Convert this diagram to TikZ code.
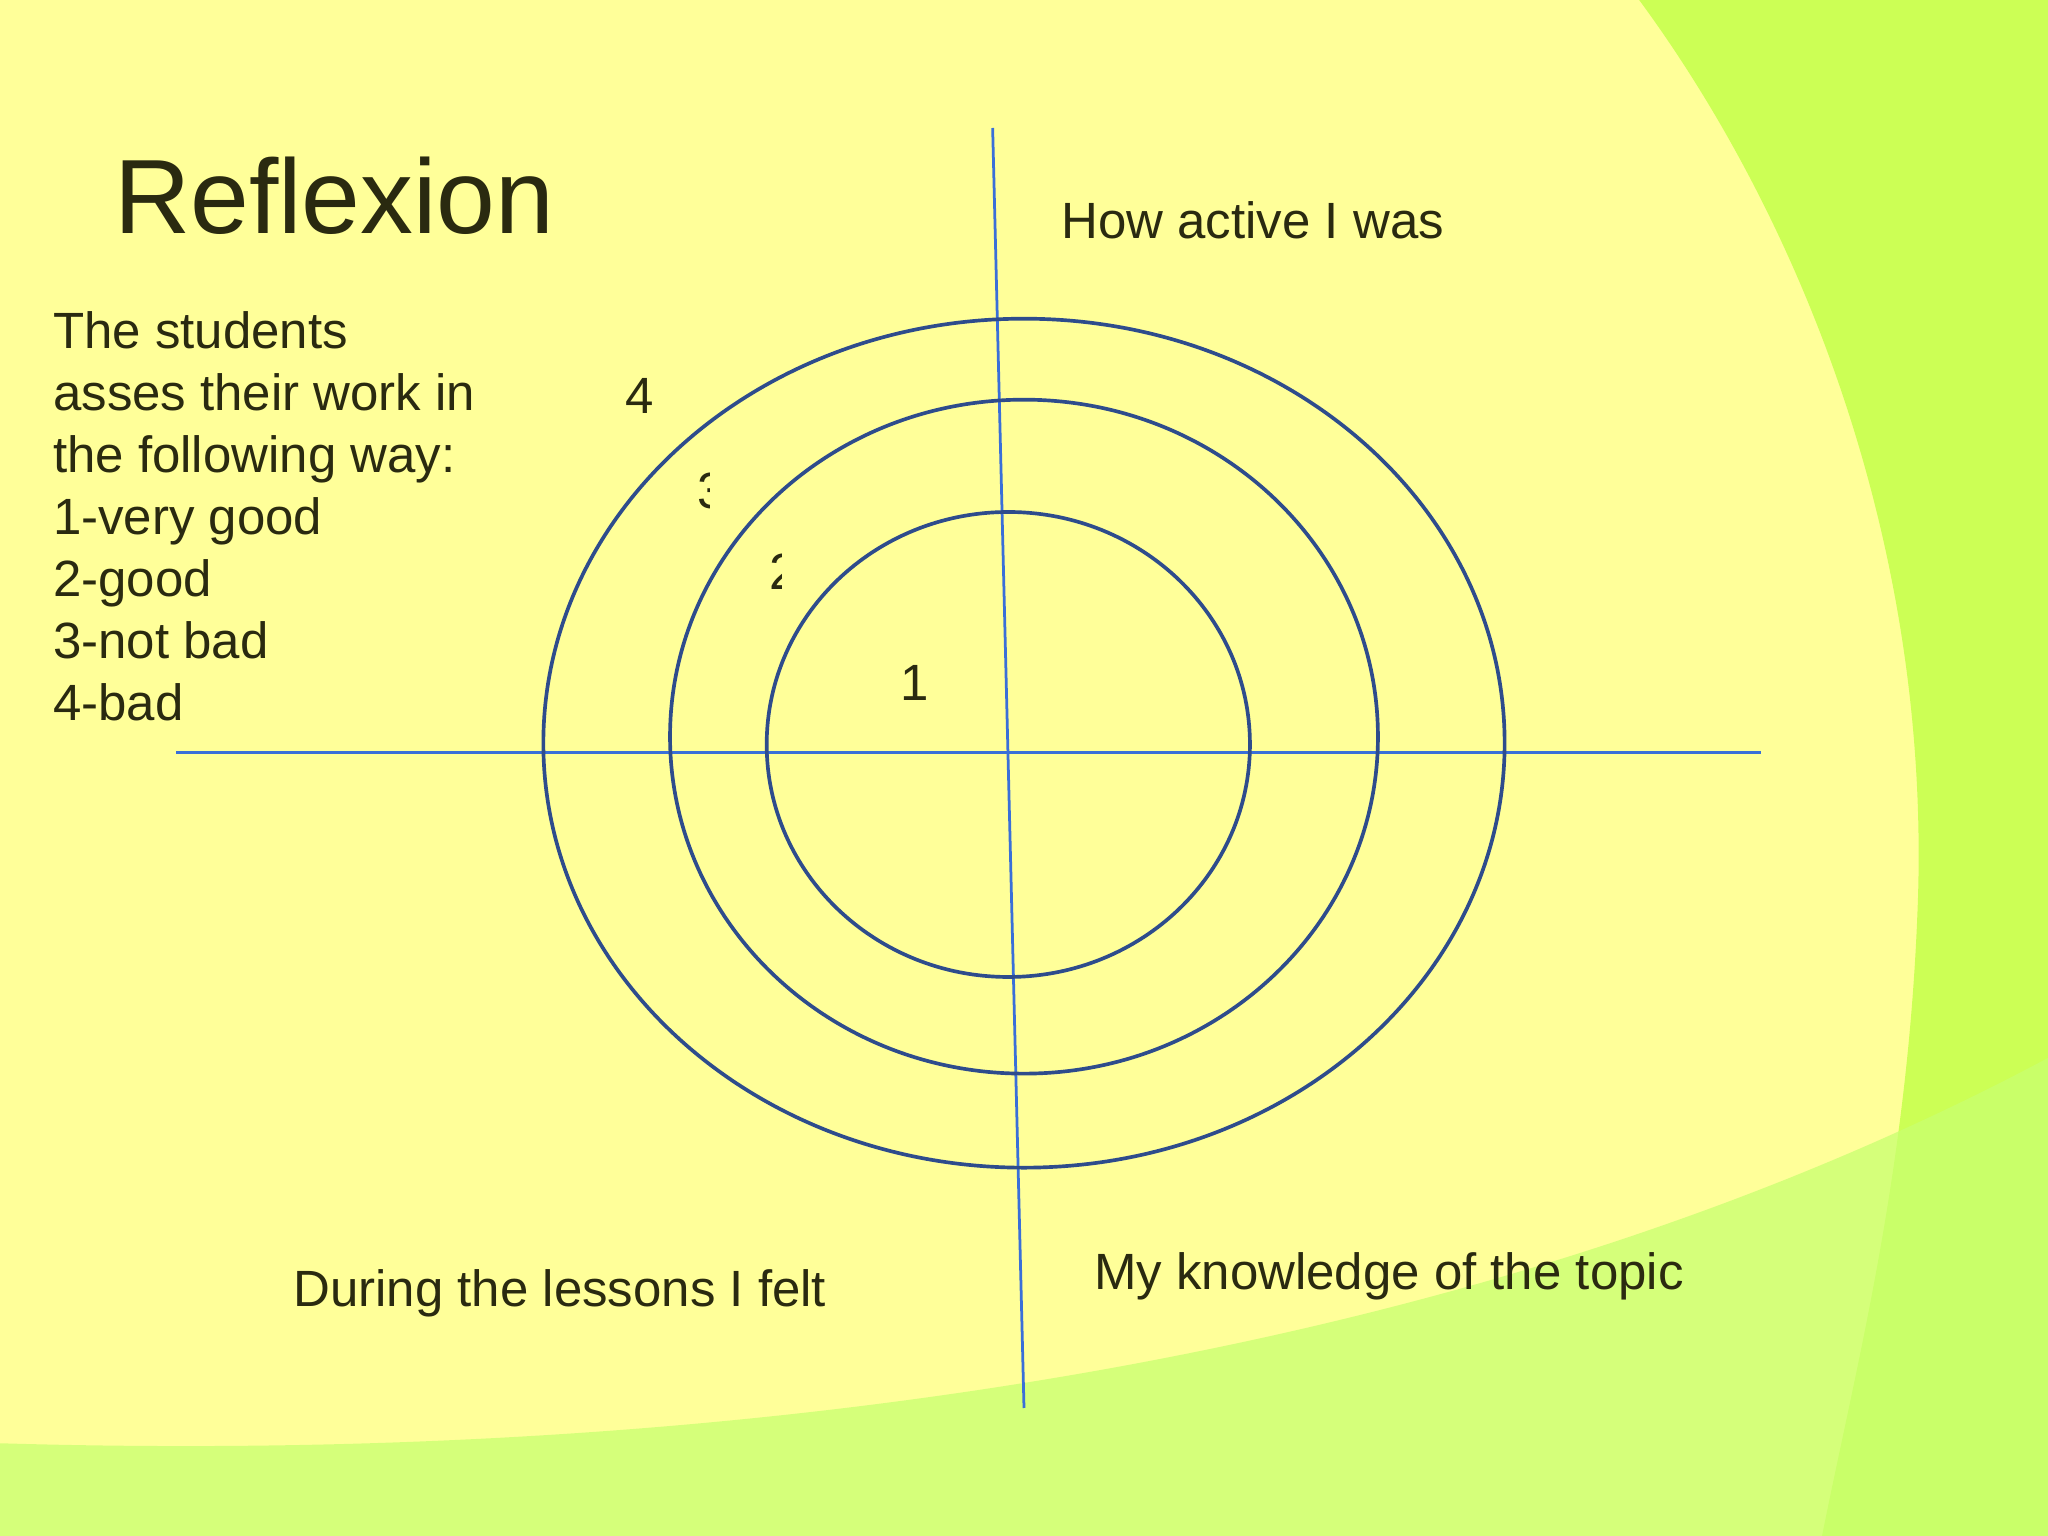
\documentclass[tikz,border=0pt]{standalone}
\usepackage{fontspec}
\setmainfont{Liberation Sans}
\definecolor{bgy}{HTML}{FFFF99}
\definecolor{grn}{HTML}{CCFF55}
\definecolor{grl}{HTML}{C8FF70}
\definecolor{axis}{HTML}{3A6FD8}
\definecolor{ring}{HTML}{2E4C8C}
\definecolor{txt}{HTML}{2A2A10}
\tikzset{lbl/.style={text=txt,font=\fontsize{11.1}{13.5}\selectfont,inner sep=0pt},
ringst/.style={draw=ring,line width=0.8pt},
axst/.style={draw=axis,line width=0.6pt}}
\begin{document}
\begin{tikzpicture}[x=0.01cm,y=-0.01cm]
\fill[bgy] (0,0) rectangle (1568,1176);
\useasboundingbox (0,0) rectangle (1568,1176);
\fill[grn] (1255,0) .. controls (1380,170) and (1480,420) .. (1468,700) .. controls (1460,900) and (1420,1050) .. (1395,1176) -- (1568,1176) -- (1568,0) -- cycle;
\fill[grl,opacity=0.75] (0,1105) .. controls (500,1120) and (1100,1060) .. (1568,810) -- (1568,1176) -- (0,1176) -- cycle;
\coordinate (vt) at (760,98); \coordinate (vb) at (784,1078);
\coordinate (hl) at (135,576); \coordinate (hr) at (1348,576);
\draw[axst] (vt) -- (vb);
\draw[axst] (hl) -- (hr);
\draw[ringst] (784,569) ellipse [x radius=368, y radius=325];
\draw[ringst] (784,564) ellipse [x radius=271, y radius=258];
\draw[ringst] (772,570) ellipse [x radius=185, y radius=178];
\node[text=txt,font=\fontsize{23}{26}\selectfont,inner sep=0pt] (title) at (256,150) {Reflexion};
\node[lbl,anchor=north west,align=left] (legend) at (40,238) {The students\\asses their work in\\the following way:\\1-very good\\2-good\\3-not bad\\4-bad};
\node[lbl] (n4) at (490,303) {4};
\node[lbl] (n1) at (700,523) {1};
\begin{scope}
\clip (530,360) rectangle (543,395);
\node[lbl] (n3) at (545,376) {3};
\end{scope}
\begin{scope}
\clip (585,420) rectangle (598,455);
\node[lbl] (n2) at (600,438) {2};
\end{scope}
\node[lbl,anchor=west] (q1) at (812,169) {How active I was};
\node[lbl,anchor=west] (q2) at (224,990) {During the lessons I felt};
\node[lbl,anchor=west] (q3) at (837,977) {My knowledge of the topic};
\end{tikzpicture}
\end{document}
